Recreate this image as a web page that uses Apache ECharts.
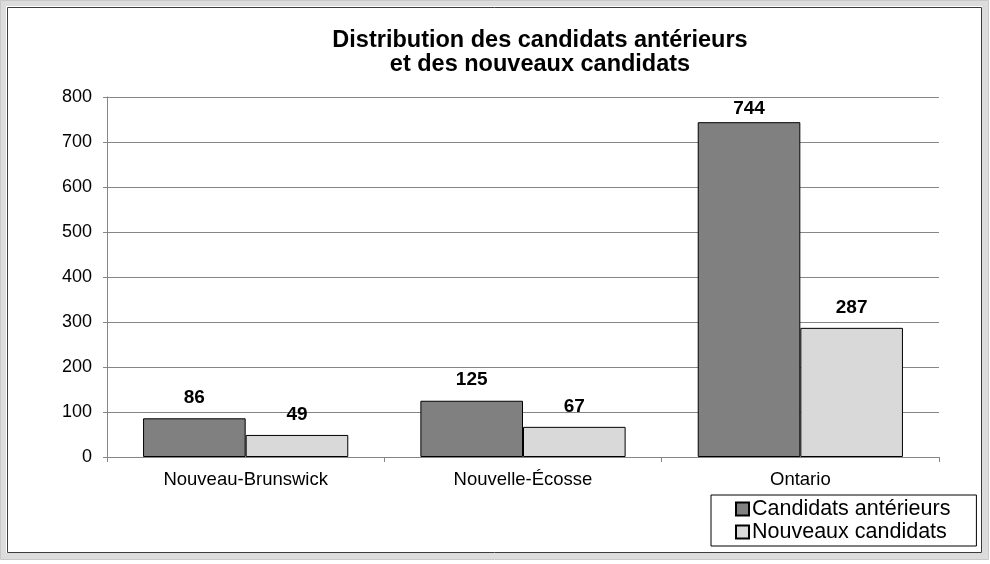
<!DOCTYPE html>
<html>
<head>
<meta charset="utf-8">
<script src="https://cdn.jsdelivr.net/npm/echarts@6/dist/echarts.min.js"></script>
<style>
html,body{margin:0;padding:0;background:#fff;}
#chart{width:990px;height:564px;}
</style>
</head>
<body>
<div id="chart"></div>
<script>
var categories = ['Nouveau-Brunswick', 'Nouvelle-\u00c9cosse', 'Ontario'];
var seriesNames = ['Candidats ant\u00e9rieurs', 'Nouveaux candidats'];
var anterieurs = [86, 125, 744];
var nouveaux = [49, 67, 287];
var yTicks = [0, 100, 200, 300, 400, 500, 600, 700, 800];
var titleLines = ['Distribution des candidats ant\u00e9rieurs', 'et des nouveaux candidats'];

var FONT = 'Liberation Sans, Arial, sans-serif';
var chart = echarts.init(document.getElementById('chart'), null, {renderer: 'canvas'});

var GRID_TOP = 97, GRID_BOTTOM = 107, H = 564;
var plotH = H - GRID_TOP - GRID_BOTTOM;
var yMax = yTicks[yTicks.length - 1];
var LABEL_FS = 19, LABEL_DIST = 11;

// Excel keeps data labels inside the plot area: shrink the distance when needed
function withLabels(values) {
  return values.map(function (v) {
    var barTopPx = GRID_TOP + plotH * (1 - v / yMax);
    var room = barTopPx - GRID_TOP - LABEL_FS - 2;
    if (room < LABEL_DIST) {
      return {value: v, label: {distance: Math.max(room, 2)}};
    }
    return v;
  });
}

var labelStyle = {
  show: true, position: 'top', distance: LABEL_DIST,
  fontFamily: FONT, fontSize: LABEL_FS, fontWeight: 'bold', color: '#000'
};

chart.setOption({
  animation: false,
  backgroundColor: '#fff',
  graphic: [
    {type: 'rect', silent: true, z: -10, shape: {x: 3, y: 3, width: 982, height: 553},
     style: {fill: 'none', stroke: '#dcdcdc', lineWidth: 6}},
    {type: 'rect', silent: true, z: -9, shape: {x: 0.5, y: 0.5, width: 988, height: 559},
     style: {fill: 'none', stroke: '#c8c8c8', lineWidth: 1}},
    {type: 'rect', silent: true, z: -8, shape: {x: 7.5, y: 7.5, width: 974, height: 545},
     style: {fill: 'none', stroke: '#3c3c3c', lineWidth: 1}}
  ],
  title: {
    text: titleLines.join('\n'),
    left: 535, top: 24, textAlign: 'center', padding: 5,
    textStyle: {fontFamily: FONT, fontSize: 23.5, fontWeight: 'bold', color: '#000', lineHeight: 24}
  },
  legend: {
    orient: 'vertical',
    left: 711, top: 495,
    padding: [3, 26, 3, 24],
    itemGap: 1,
    itemWidth: 13, itemHeight: 13,
    icon: 'rect',
    borderColor: '#000', borderWidth: 1,
    textStyle: {fontFamily: FONT, fontSize: 21.5, color: '#000', padding: [0, 0, 0, -2]},
    data: seriesNames
  },
  grid: {left: 107, right: 51, top: GRID_TOP, bottom: GRID_BOTTOM, containLabel: false},
  xAxis: {
    type: 'category',
    data: categories,
    axisLine: {show: true, lineStyle: {color: '#868686', width: 1}},
    axisTick: {show: true, alignWithLabel: false, length: 5, lineStyle: {color: '#868686'}},
    axisLabel: {fontFamily: FONT, fontSize: 18.5, color: '#000', margin: 13}
  },
  yAxis: {
    type: 'value',
    min: yTicks[0], max: yMax, interval: 100,
    axisLine: {show: true, lineStyle: {color: '#868686', width: 1}},
    axisTick: {show: true, length: 4, lineStyle: {color: '#868686'}},
    splitLine: {show: true, lineStyle: {color: '#868686', width: 1}},
    axisLabel: {fontFamily: FONT, fontSize: 18, color: '#000', margin: 15}
  },
  series: [
    {
      name: seriesNames[0], type: 'bar', data: withLabels(anterieurs),
      barGap: '0%', barCategoryGap: '26%',
      itemStyle: {color: '#808080', borderColor: '#000', borderWidth: 1},
      label: labelStyle
    },
    {
      name: seriesNames[1], type: 'bar', data: withLabels(nouveaux),
      barGap: '0%', barCategoryGap: '26%',
      itemStyle: {color: '#d9d9d9', borderColor: '#000', borderWidth: 1},
      label: labelStyle
    }
  ]
});
</script>
</body>
</html>
